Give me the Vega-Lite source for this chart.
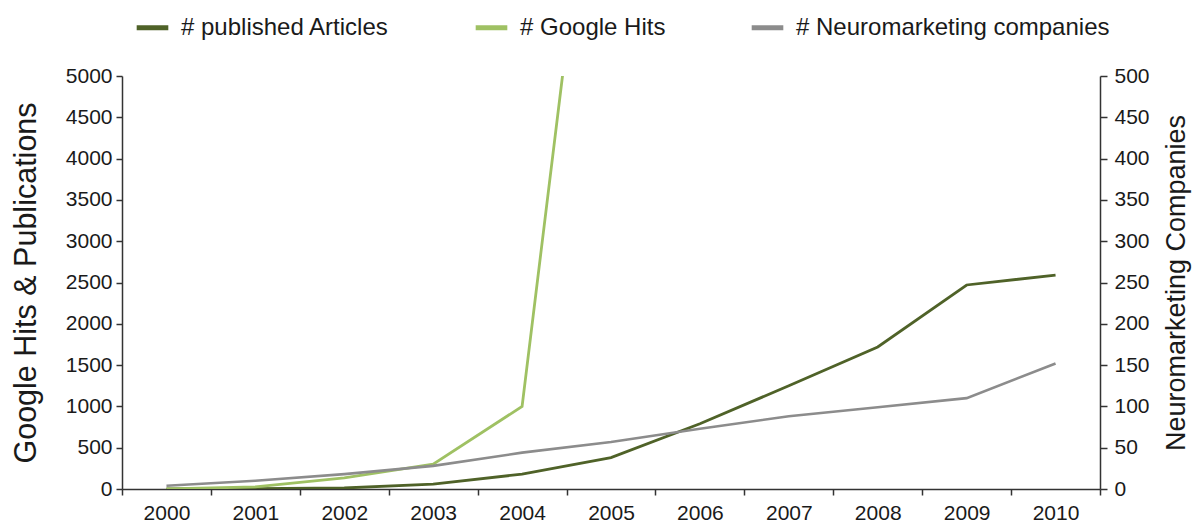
{
  "$schema": "https://vega.github.io/schema/vega-lite/v6.json",
  "autosize": "none",
  "width": 978,
  "height": 413,
  "padding": {"left": 122, "top": 76, "right": 98, "bottom": 35},
  "background": "white",
  "config": {
    "font": "Liberation Sans",
    "view": {"stroke": null},
    "axis": {"domainColor": "#333333", "tickColor": "#333333", "labelColor": "#1a1a1a", "titleColor": "#1a1a1a", "labelFont": "Liberation Sans", "titleFont": "Liberation Sans", "labelFontSize": 21, "titleFontSize": 28, "titleFontWeight": "normal", "grid": false, "domainWidth": 1.5, "tickWidth": 1.5, "tickSize": 6}
  },
  "datasets": {
    "main": [
      {"year": "2000", "series": "# published Articles", "value": 0},
      {"year": "2001", "series": "# published Articles", "value": 3},
      {"year": "2002", "series": "# published Articles", "value": 12},
      {"year": "2003", "series": "# published Articles", "value": 60},
      {"year": "2004", "series": "# published Articles", "value": 180},
      {"year": "2005", "series": "# published Articles", "value": 380},
      {"year": "2006", "series": "# published Articles", "value": 790},
      {"year": "2007", "series": "# published Articles", "value": 1250},
      {"year": "2008", "series": "# published Articles", "value": 1720},
      {"year": "2009", "series": "# published Articles", "value": 2470},
      {"year": "2010", "series": "# published Articles", "value": 2590},
      {"year": "2000", "series": "# Google Hits", "value": 0},
      {"year": "2001", "series": "# Google Hits", "value": 25},
      {"year": "2002", "series": "# Google Hits", "value": 135},
      {"year": "2003", "series": "# Google Hits", "value": 300},
      {"year": "2004", "series": "# Google Hits", "value": 1000},
      {"year": "2005", "series": "# Google Hits", "value": 9800},
      {"year": "2000", "series": "# Neuromarketing companies", "value": 4},
      {"year": "2001", "series": "# Neuromarketing companies", "value": 10},
      {"year": "2002", "series": "# Neuromarketing companies", "value": 18},
      {"year": "2003", "series": "# Neuromarketing companies", "value": 28},
      {"year": "2004", "series": "# Neuromarketing companies", "value": 44},
      {"year": "2005", "series": "# Neuromarketing companies", "value": 57},
      {"year": "2006", "series": "# Neuromarketing companies", "value": 73},
      {"year": "2007", "series": "# Neuromarketing companies", "value": 88},
      {"year": "2008", "series": "# Neuromarketing companies", "value": 99},
      {"year": "2009", "series": "# Neuromarketing companies", "value": 110},
      {"year": "2010", "series": "# Neuromarketing companies", "value": 152}
    ]
  },
  "data": {"name": "main"},
  "encoding": {
    "x": {"field": "year", "type": "ordinal", "scale": {"type": "band", "paddingInner": 0, "paddingOuter": 0}, "axis": {"title": null, "labelAngle": 0, "tickBand": "extent", "labelPadding": 7}},
    "color": {"field": "series", "type": "nominal", "scale": {"domain": ["# published Articles", "# Google Hits", "# Neuromarketing companies"], "range": ["#4f6228", "#9fc163", "#8c8c8c"]},
      "legend": {"title": null, "orient": "none", "legendX": 12, "legendY": -67, "direction": "horizontal", "symbolType": "stroke", "symbolSize": 1000, "symbolStrokeWidth": 5, "labelFontSize": 24, "labelFont": "Liberation Sans", "labelColor": "#1a1a1a", "labelLimit": 0, "columnPadding": 75, "labelOffset": 10}}
  },
  "layer": [
    {
      "transform": [{"filter": "datum.series !== '# Neuromarketing companies'"}],
      "mark": {"type": "line", "strokeWidth": 2.8, "clip": true},
      "encoding": {
        "y": {"field": "value", "type": "quantitative", "scale": {"domain": [0, 5000], "nice": false}, "axis": {"title": "Google Hits & Publications", "titleFontSize": 30.5, "format": "d", "values": [0,500,1000,1500,2000,2500,3000,3500,4000,4500,5000], "labelPadding": 4, "titlePadding": 24}}
      }
    },
    {
      "transform": [{"filter": "datum.series === '# Neuromarketing companies'"}],
      "mark": {"type": "line", "strokeWidth": 2.6},
      "encoding": {
        "y": {"field": "value", "type": "quantitative", "scale": {"domain": [0, 500], "nice": false}, "axis": {"orient": "right", "title": "Neuromarketing Companies", "titleFontSize": 27, "titleAngle": 270, "titleBaseline": "top", "format": "d", "values": [0,50,100,150,200,250,300,350,400,450,500], "tickSize": 7, "labelPadding": 7, "titlePadding": 14}}
      }
    }
  ],
  "resolve": {"scale": {"y": "independent"}}
}
